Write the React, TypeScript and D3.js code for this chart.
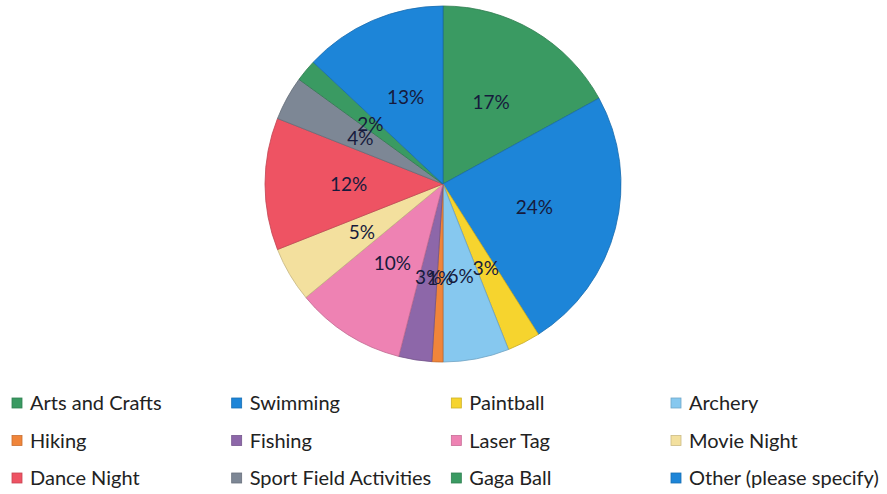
import * as d3 from 'd3'

const categories = [
  'Arts and Crafts', 'Swimming', 'Paintball', 'Archery',
  'Hiking', 'Fishing', 'Laser Tag', 'Movie Night',
  'Dance Night', 'Sport Field Activities', 'Gaga Ball', 'Other (please specify)',
]
const values = [17, 24, 3, 6, 1, 3, 10, 5, 12, 4, 2, 13]
const colors = [
  '#3a9a62', '#1d85d8', '#f6d42e', '#86c8ef',
  '#f0853a', '#8d67a9', '#ee82b3', '#f3e09e',
  '#ee5363', '#7d8795', '#3a9a62', '#1d85d8',
]

const W = 887
const H = 494
const cx = 443
const cy = 184
const R = 178

export default function App() {
  const pie = d3.pie<number>().sort(null).value(d => d)
  const arcs = pie(values)
  const arc = d3.arc<d3.PieArcDatum<number>>().innerRadius(0).outerRadius(R)
  const labelArc = d3.arc<d3.PieArcDatum<number>>().innerRadius(R * 0.53).outerRadius(R * 0.53)
  const total = d3.sum(values)

  const colX = d3.scalePoint<number>().domain([0, 1, 2, 3]).range([17, 676])
  const rowY = d3.scalePoint<number>().domain([0, 1, 2]).range([403, 478])

  return (
    <svg width={W} height={H} style={{ position: 'absolute', left: 0, top: 0, background: '#fff' }}>
      <g transform={`translate(${cx},${cy})`}>
        {arcs.map((a, i) => (
          <path key={i} d={arc(a) ?? ''} fill={colors[i]}
            stroke={d3.color(colors[i])!.darker(0.6).toString()} strokeWidth={0.8} />
        ))}
        {arcs.map((a, i) => {
          const [x, y] = labelArc.centroid(a)
          return (
            <text key={i} x={x} y={y} textAnchor="middle" dy="0.35em"
              fontFamily="Lato, 'Open Sans', sans-serif" fontSize={19} fill="#161a3c">
              {Math.round((values[i] / total) * 100)}%
            </text>
          )
        })}
      </g>
      {categories.map((c, i) => {
        const col = i % 4
        const row = Math.floor(i / 4)
        const x = colX(col)!
        const y = rowY(row)!
        return (
          <g key={c} transform={`translate(${x},${y})`}>
            <rect x={-5} y={-5} width={10} height={10} fill={colors[i]}
              stroke={d3.color(colors[i])!.darker(0.5).toString()} strokeWidth={0.8} />
            <text x={13} y={0} dy="0.35em" fontFamily="Lato, 'Open Sans', sans-serif"
              fontSize={20} fill="#222">{c}</text>
          </g>
        )
      })}
    </svg>
  )
}
